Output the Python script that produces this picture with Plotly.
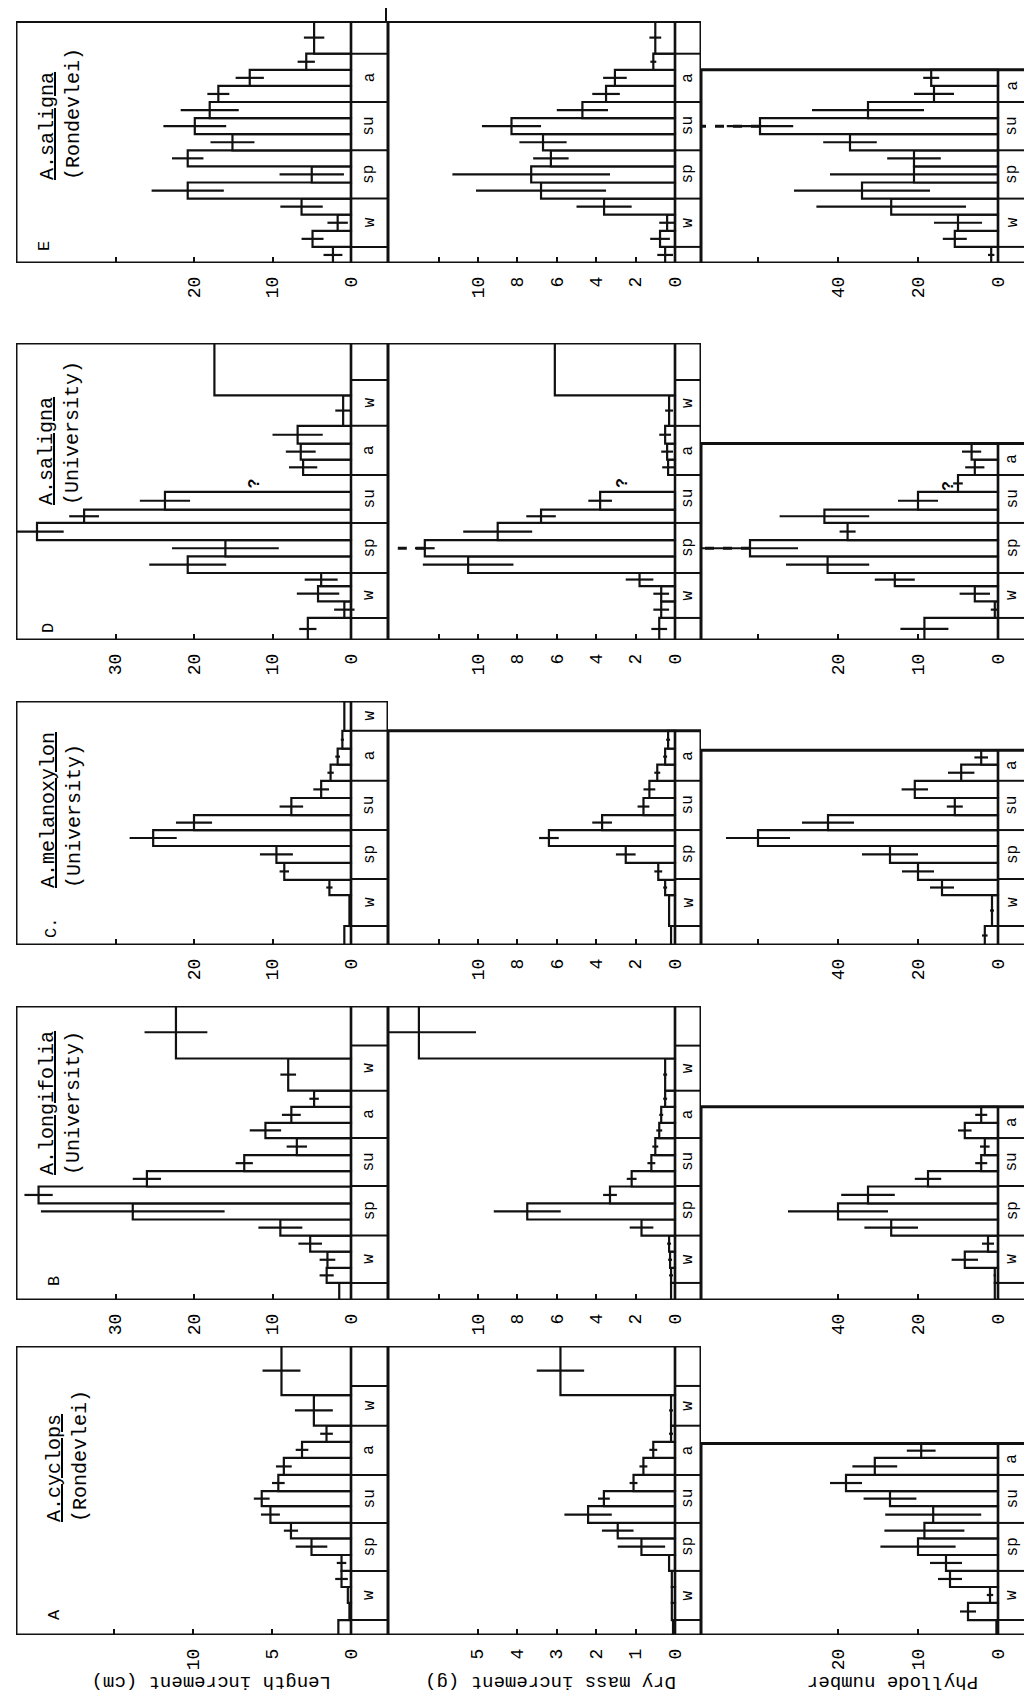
import plotly.graph_objects as go

# ---------------- data ----------------
# time axis: months from the start of each panel; edges bound each bar
panel_keys = ['A', 'B', 'C', 'D', 'E']
species = ['A.cyclops', 'A.longifolia', 'A.melanoxylon', 'A.saligna', 'A.saligna']
sites = ['(Rondevlei)', '(University)', '(University)', '(University)', '(Rondevlei)']
panel_letters = ['A', 'B', 'C.', 'D', 'E']
row_titles = ['Length increment (cm)', 'Dry mass increment (g)', 'Phyllode number']

# Panel A  A.cyclops (Rondevlei)
A_edges = [0, 0.93, 1.99, 2.98, 3.98, 4.97, 6.0, 6.96, 8.0, 8.94, 9.94, 11.0, 12.0, 13.0, 14.9, 17.95]
A_len = [0.8, 0.1, 0.2, 0.6, 0.6, 2.5, 3.8, 5.1, 5.65, 4.6, 4.25, 3.1, 1.55, 2.35, 4.4]
A_len_err = [0, 0, 0, 0.4, 0.3, 1.0, 0.45, 0.6, 0.5, 0.4, 0.5, 0.4, 0.4, 1.2, 1.2]
A_dry = [0.05, 0.08, 0.08, 0.08, 0.15, 0.85, 1.45, 2.2, 1.8, 1.05, 0.8, 0.55, 0.1, 0.1, 2.9]
A_dry_err = [0, 0, 0, 0, 0, 0.6, 0.4, 0.6, 0.15, 0.1, 0.1, 0.1, 0.05, 0.05, 0.6]
A_phy_edges = [0, 0.93, 1.99, 2.98, 3.98, 4.97, 6.0, 6.96, 8.0, 8.94, 9.94, 11.0, 11.9]
A_phy = [0.2, 3.75, 1.0, 6.0, 6.5, 10.0, 9.2, 8.1, 13.5, 19.0, 15.4, 9.6]
A_phy_err = [0, 1.0, 0.4, 1.5, 2.0, 4.7, 5.0, 6.0, 3.3, 2.0, 2.8, 1.8]
A_seasons = [0, 0.93, 3.98, 6.96, 9.94, 13.0, 15.47, 17.95]
A_season_labels = ['', 'w', 'sp', 'su', 'a', 'w', '']

# Panel B  A.longifolia (University)
B_edges = [0, 1.06, 2.0, 3.0, 4.0, 5.0, 6.0, 7.05, 8.0, 9.0, 10.06, 11.0, 12.0, 13.0, 15.0, 18.26]
B_len = [1.5, 3.1, 3.0, 5.2, 9.0, 27.8, 39.8, 26.0, 13.6, 6.9, 10.9, 7.6, 4.7, 8.0, 22.3]
B_len_err = [0, 0.9, 1.0, 1.5, 2.8, 11.7, 1.8, 1.8, 1.1, 1.3, 2.0, 1.2, 0.6, 1.0, 4.0]
B_dry = [0.2, 0.2, 0.25, 0.3, 1.7, 7.5, 3.3, 2.2, 1.2, 1.0, 0.8, 0.7, 0.5, 0.5, 13.0]
B_dry_err = [0, 0.1, 0.1, 0.1, 0.6, 1.7, 0.35, 0.25, 0.2, 0.15, 0.15, 0.1, 0.1, 0.1, 2.9]
B_phy_edges = [0, 1.06, 2.0, 3.0, 4.0, 5.0, 6.0, 7.05, 8.0, 9.0, 10.06, 11.0, 12.0]
B_phy = [0.8, 0.8, 8.3, 2.5, 26.7, 40.0, 32.5, 17.5, 4.2, 3.3, 8.3, 4.2]
B_phy_err = [0, 0.3, 3.3, 1.5, 6.7, 12.5, 6.7, 3.3, 1.5, 1.2, 1.7, 1.5]
B_seasons = [0, 1.06, 4.0, 7.08, 10.06, 13.0, 15.8, 18.26]
B_season_labels = ['', 'w', 'sp', 'su', 'a', 'w', '']

# Panel C  A.melanoxylon (University)
C_edges = [0, 1.18, 3.1, 4.04, 5.1, 6.15, 7.14, 8.07, 9.13, 10.2, 11.2, 12.2, 13.3, 15.15]
C_len = [0.85, 0.2, 2.75, 8.5, 9.5, 25.2, 20.0, 7.6, 3.8, 2.6, 1.7, 1.1, 0.85]
C_len_err = [0, 0, 0.4, 0.6, 2.1, 3.0, 2.3, 1.5, 1.0, 0.4, 0.3, 0.2, 0]
C_dry_edges = [0, 1.18, 3.1, 4.04, 5.1, 6.15, 7.14, 8.07, 9.13, 10.2, 11.2, 12.2, 13.3]
C_dry = [0.2, 0.3, 0.5, 0.85, 2.5, 6.4, 3.7, 1.6, 1.3, 0.9, 0.5, 0.35]
C_dry_err = [0, 0, 0.1, 0.2, 0.5, 0.5, 0.5, 0.3, 0.3, 0.15, 0.1, 0.1]
C_phy_edges = [0, 1.18, 3.1, 4.04, 5.1, 6.15, 7.14, 8.07, 9.13, 10.2, 11.2, 12.1]
C_phy = [3.3, 1.5, 14.0, 20.0, 27.0, 60.0, 42.5, 10.8, 20.8, 9.2, 4.2]
C_phy_err = [0.7, 0.5, 3.0, 4.0, 7.0, 8.0, 6.5, 2.0, 3.3, 3.3, 1.7]
C_seasons = [0, 1.18, 4.1, 7.14, 10.2, 13.3, 15.15]
C_season_labels = ['', 'w', 'sp', 'su', 'a', 'w']

# Panel D  A.saligna (University)
D_edges = [0, 1.37, 2.4, 3.35, 4.16, 5.2, 6.2, 7.27, 8.1, 9.2, 10.25, 11.2, 12.2, 13.3, 15.2, 18.45]
D_len = [5.5, 0.85, 4.2, 3.8, 20.8, 16.0, 40.0, 34.0, 23.7, None, 6.1, 6.4, 6.8, 1.0, 17.4]
D_len_err = [1.1, 1.3, 2.7, 2.1, 4.9, 6.8, 3.4, 1.9, 3.2, 0, 1.8, 1.9, 3.2, 1.0, 0]
D_dry = [0.8, 0.7, 0.7, 1.8, 10.5, 12.7, 9.0, 6.8, 3.8, None, 0.35, 0.4, 0.5, 0.3, 6.1]
D_dry_err = [0.4, 0.4, 0.4, 0.7, 2.3, 0.5, 1.75, 0.75, 0.6, 0, 0.3, 0.3, 0.3, 0.2, 0]
D_phy_edges = [0, 1.37, 2.4, 3.35, 4.16, 5.2, 6.2, 7.27, 8.1, 9.2, 10.25, 11.2, 12.2]
D_phy = [9.2, 0.4, 2.9, 12.9, 21.3, 31.0, 18.8, 21.7, 10.0, 5.0, 2.9, 3.3]
D_phy_err = [3.0, 0.5, 1.9, 2.5, 5.2, 6.0, 1.0, 5.6, 2.5, 0.6, 1.2, 1.2]
D_seasons = [0, 1.37, 4.16, 7.27, 10.25, 13.3, 16.15, 18.45]
D_season_labels = ['', 'w', 'sp', 'su', 'a', 'w', '']
D_query_t = [9.75, 9.75, 9.6]          # '?' marks (time)
D_query_v = [12.2, 2.65, 6.1]          # '?' marks (value)

# Panel E  A.saligna (Rondevlei)
E_edges = [0, 1, 2, 3, 4, 5, 6, 7, 8, 9, 10, 11, 12, 13, 15.0]
E_len = [2.3, 4.9, 1.7, 6.3, 20.8, 5.0, 20.8, 15.1, 19.9, 18.0, 16.9, 12.9, 5.7, 4.7]
E_len_err = [1.2, 1.4, 1.3, 2.7, 4.6, 4.1, 2.0, 2.8, 4.0, 3.7, 1.4, 1.8, 1.1, 1.3]
E_dry = [0.5, 0.76, 0.4, 3.6, 6.8, 7.3, 6.3, 6.7, 8.3, 4.7, 3.5, 3.05, 1.1, 1.0]
E_dry_err = [0.4, 0.5, 0.4, 1.4, 3.3, 4.0, 0.9, 1.2, 1.5, 1.3, 0.7, 0.6, 0.15, 0.3]
E_phy_edges = [0, 1, 2, 3, 4, 5, 6, 7, 8, 9, 10, 11, 12]
E_phy = [1.7, 10.8, 10.0, 26.7, 34.0, 21.0, 21.0, 37.0, 59.5, 32.5, 16.0, 16.7]
E_phy_err = [0.8, 3.0, 6.0, 18.7, 17.0, 21.0, 6.7, 6.7, 8.3, 14.0, 5.0, 2.0]
E_seasons = [0, 1, 4, 7, 10, 13, 15.0]
E_season_labels = ['', 'w', 'sp', 'su', 'a', '']

# tick values / labels per panel and row
len_ticks = {'A': [0, 5, 10, 15], 'B': [0, 10, 20, 30], 'C': [0, 10, 20, 30], 'D': [0, 10, 20, 30], 'E': [0, 10, 20, 30]}
len_tick_text = {'A': ['0', '5', '10', ''], 'B': ['0', '10', '20', '30'], 'C': ['0', '10', '20', ''],
                 'D': ['0', '10', '20', '30'], 'E': ['0', '10', '20', '']}
dry_ticks = {'A': [0, 1, 2, 3, 4, 5], 'B': [0, 2, 4, 6, 8, 10, 12], 'C': [0, 2, 4, 6, 8, 10, 12],
             'D': [0, 2, 4, 6, 8, 10, 12], 'E': [0, 2, 4, 6, 8, 10, 12]}
dry_tick_text = {'A': ['0', '1', '2', '3', '4', '5'], 'B': ['0', '2', '4', '6', '8', '10', ''],
                 'C': ['0', '2', '4', '6', '8', '10', ''], 'D': ['0', '2', '4', '6', '8', '10', ''],
                 'E': ['0', '2', '4', '6', '8', '10', '']}
phy_ticks = {'A': [0, 10, 20], 'B': [0, 20, 40], 'C': [0, 20, 40, 60], 'D': [0, 10, 20, 30], 'E': [0, 20, 40, 60]}
phy_tick_text = {'A': ['0', '10', '20'], 'B': ['0', '20', '40'], 'C': ['0', '20', '40', ''],
                 'D': ['0', '10', '20', ''], 'E': ['0', '20', '40', '']}

# ---------------- layout geometry (pixels of the rotated page) ----------------
W, H = 1032, 1696
FONT = 'Liberation Mono'
PX_PER_MONTH = 16.1
col_left = [8, 380, 693]
col_zero = [343, 667, 990]
col_right = [380, 693, 1019]
panel_px = {'A': (1627, 1338), 'B': (1292, 998), 'C': (937, 693), 'D': (632, 335), 'E': (255, 13)}
px_per_unit = {'A': (15.8, 39.5, 8.0), 'B': (7.85, 19.7, 4.0), 'C': (7.85, 19.7, 4.0),
               'D': (7.85, 19.7, 8.0), 'E': (7.85, 19.7, 4.0)}
title_pos = {'A': (59, 1448), 'B': (52, 1095), 'C': (53, 802), 'D': (52, 425), 'E': (52, 106)}
letter_pos = {'A': (46, 1607), 'B': (46, 1273), 'C': (43, 920), 'D': (40, 620), 'E': (36, 238)}

data = {
    'A': [(A_edges, A_len, A_len_err), (A_edges, A_dry, A_dry_err), (A_phy_edges, A_phy, A_phy_err)],
    'B': [(B_edges, B_len, B_len_err), (B_edges, B_dry, B_dry_err), (B_phy_edges, B_phy, B_phy_err)],
    'C': [(C_edges, C_len, C_len_err), (C_dry_edges, C_dry, C_dry_err), (C_phy_edges, C_phy, C_phy_err)],
    'D': [(D_edges, D_len, D_len_err), (D_edges, D_dry, D_dry_err), (D_phy_edges, D_phy, D_phy_err)],
    'E': [(E_edges, E_len, E_len_err), (E_edges, E_dry, E_dry_err), (E_phy_edges, E_phy, E_phy_err)],
}
seasons = {'A': (A_seasons, A_season_labels), 'B': (B_seasons, B_season_labels),
           'C': (C_seasons, C_season_labels), 'D': (D_seasons, D_season_labels),
           'E': (E_seasons, E_season_labels)}
ticks = [(len_ticks, len_tick_text), (dry_ticks, dry_tick_text), (phy_ticks, phy_tick_text)]


def paper(x, y):
    return x / W, 1 - y / H


fig = go.Figure()
shapes, annots, axes = [], [], {}
LC = '#111111'
axis_refs = {}
n = 0
for pi, p in enumerate(panel_keys):
    bottom, top = panel_px[p]
    T = (bottom - top) / PX_PER_MONTH
    s_bounds, s_labels = seasons[p]
    for c in range(3):
        n += 1
        sfx = '' if n == 1 else str(n)
        xr, yr = 'x' + sfx, 'y' + sfx
        axis_refs[(p, c)] = (xr, yr)
        sc = px_per_unit[p][c]
        vmax = (col_zero[c] - col_left[c]) / sc
        vmin = -(col_right[c] - col_zero[c]) / sc
        edges, vals, errs = data[p][c]
        mids = [(a + b) / 2 for a, b in zip(edges[:-1], edges[1:])]
        widths = [b - a for a, b in zip(edges[:-1], edges[1:])]
        fig.add_trace(go.Bar(
            x=vals, y=mids, width=widths, orientation='h', xaxis=xr, yaxis=yr,
            marker=dict(color='white', line=dict(color=LC, width=2.2)),
            error_x=dict(type='data', array=errs, visible=True, width=0, thickness=2.2, color=LC),
            showlegend=False, hoverinfo='skip'))
        tv, tt = ticks[c][0][p], ticks[c][1][p]
        axes['xaxis' + sfx] = dict(
            domain=[col_left[c] / W, col_right[c] / W], range=[vmax, vmin], anchor=yr,
            tickvals=tv, ticktext=tt, ticks='inside', ticklen=6, tickwidth=2, tickcolor=LC,
            tickangle=-90, ticklabelstandoff=9,
            tickfont=dict(family=FONT, size=18, color='black'),
            showgrid=False, zeroline=False, showline=False, fixedrange=True)
        axes['yaxis' + sfx] = dict(domain=[1 - bottom / H, 1 - top / H], range=[0, T],
                                   anchor=xr, visible=False, fixedrange=True)
        sub_top = edges[-1]
        # frame of the sub-panel (value area + season strip)
        shapes.append(dict(type='rect', xref=xr, yref=yr, x0=vmax, x1=vmin, y0=0, y1=sub_top,
                           line=dict(color=LC, width=3)))
        shapes.append(dict(type='line', xref=xr, yref=yr, x0=0, x1=0, y0=0, y1=sub_top,
                           line=dict(color=LC, width=2.5)))
        bnds = [b for b in s_bounds if b < sub_top - 0.05] + [sub_top]
        for b in bnds[1:-1]:
            shapes.append(dict(type='line', xref=xr, yref=yr, x0=0, x1=vmin, y0=b, y1=b,
                               line=dict(color=LC, width=2)))
        for i in range(len(bnds) - 1):
            lab = s_labels[i]
            if lab:
                annots.append(dict(xref=xr, yref=yr, x=vmin / 2, y=(bnds[i] + bnds[i + 1]) / 2,
                                   text=lab, textangle=-90, showarrow=False,
                                   font=dict(family=FONT, size=16, color='black')))
    # title and letter of the panel
    tx, ty = paper(*title_pos[p])
    annots.append(dict(xref='paper', yref='paper', x=tx, y=ty, xanchor='center', yanchor='middle',
                       text='<u>%s</u><br>%s' % (species[pi], sites[pi]), align='left',
                       textangle=-90, showarrow=False,
                       font=dict(family=FONT, size=20, color='black')))
    lx, ly = paper(*letter_pos[p])
    annots.append(dict(xref='paper', yref='paper', x=lx, y=ly, xanchor='center', yanchor='middle',
                       text=panel_letters[pi], textangle=-90, showarrow=False,
                       font=dict(family=FONT, size=17, color='black')))

# dashed peak connectors
def dash_line(p, c, t, v_from):
    xr, yr = axis_refs[(p, c)]
    sc = px_per_unit[p][c]
    vmax = (col_zero[c] - col_left[c]) / sc
    shapes.append(dict(type='line', xref=xr, yref=yr, x0=v_from, x1=vmax, y0=t, y1=t,
                       line=dict(color=LC, width=3, dash='dash')))

dash_line('E', 2, (E_phy_edges[8] + E_phy_edges[9]) / 2, E_phy[8])
dash_line('D', 1, (D_edges[5] + D_edges[6]) / 2, D_dry[5])
dash_line('D', 2, (D_phy_edges[5] + D_phy_edges[6]) / 2, D_phy[5])

# '?' marks in panel D
for c in range(3):
    xr, yr = axis_refs[('D', c)]
    annots.append(dict(xref=xr, yref=yr, x=D_query_v[c], y=D_query_t[c], text='<b>?</b>',
                       textangle=-90, showarrow=False,
                       font=dict(family=FONT, size=16, color='black')))

# row titles (upside down, as on the rotated page)
for (cx, txt) in zip([204, 543, 885], row_titles):
    x, y = paper(cx, 1674)
    annots.append(dict(xref='paper', yref='paper', x=x, y=y, xanchor='center', yanchor='middle',
                       text=txt, textangle=180, showarrow=False,
                       font=dict(family=FONT, size=19, color='black')))

# small stray rule above panel E
shapes.append(dict(type='line', xref='paper', yref='paper', x0=378 / W, x1=378 / W,
                   y0=1 - 13 / H, y1=1.0, line=dict(color=LC, width=2)))

fig.update_layout(width=W, height=H, margin=dict(l=0, r=0, t=0, b=0),
                  paper_bgcolor='white', plot_bgcolor='rgba(0,0,0,0)',
                  barmode='overlay', shapes=shapes, annotations=annots, **axes)
fig.write_html('out.html')
